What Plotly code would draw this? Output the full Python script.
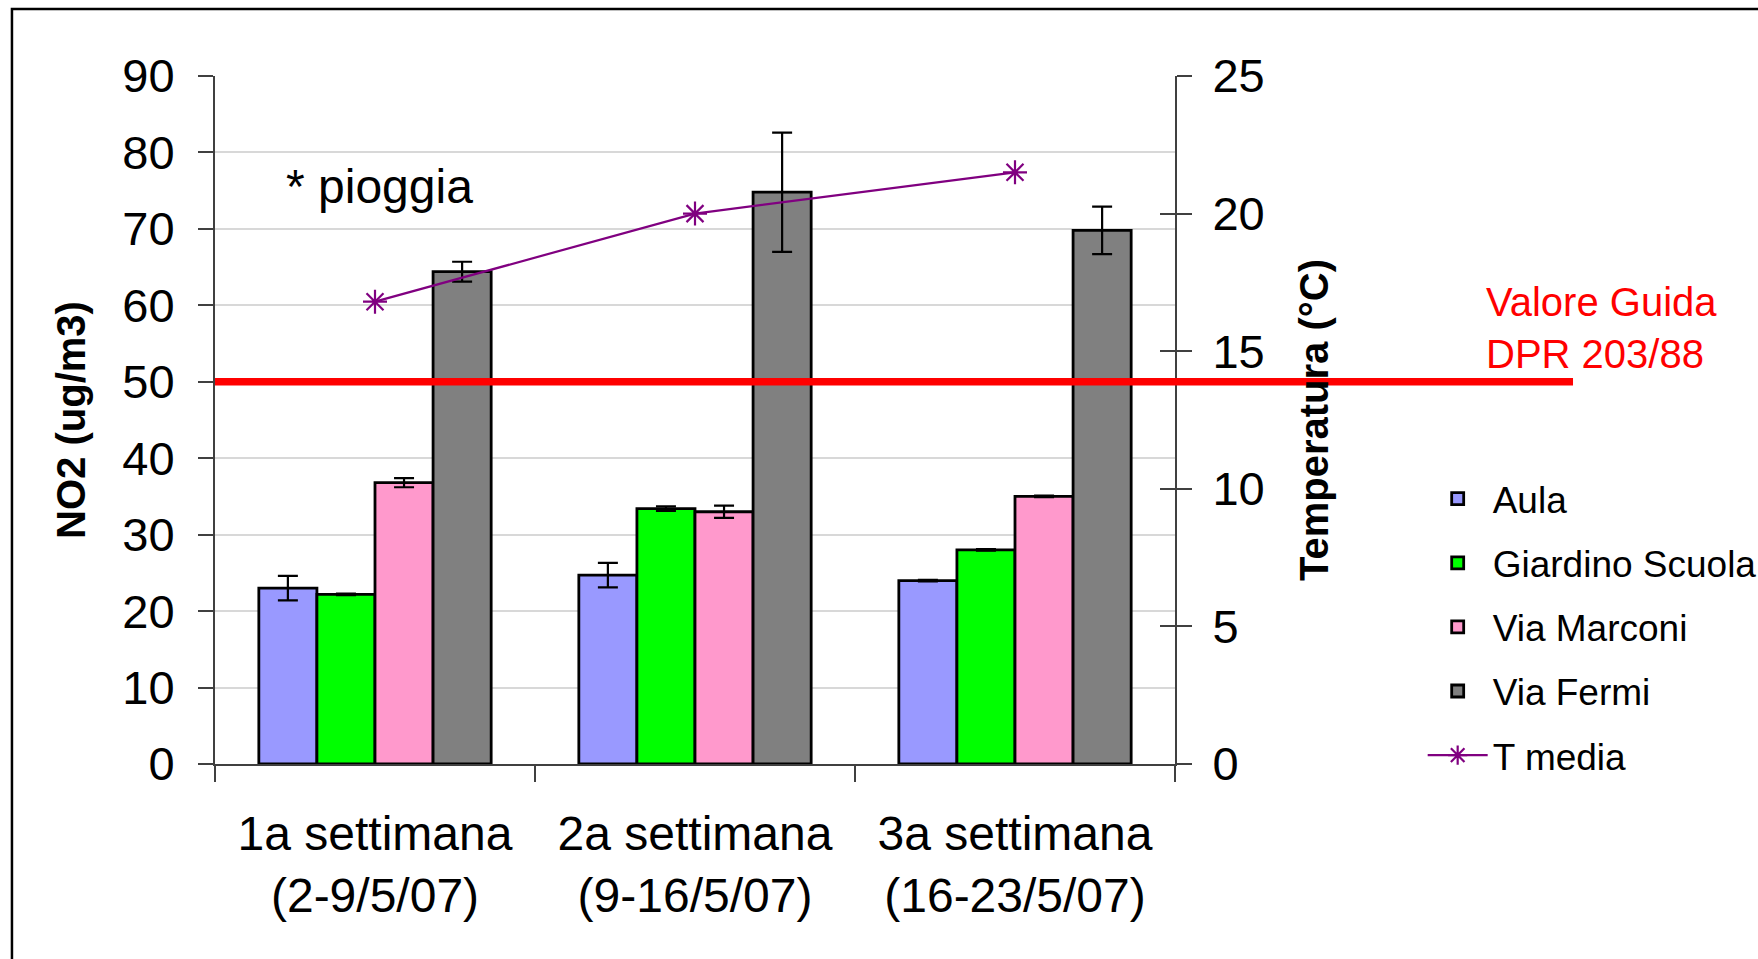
import plotly.graph_objects as go

categories = ["1a settimana<br>(2-9/5/07)", "2a settimana<br>(9-16/5/07)", "3a settimana<br>(16-23/5/07)"]
series_names = ["Aula", "Giardino Scuola", "Via Marconi", "Via Fermi"]
aula = [23.0, 24.7, 24.0]
giardino = [22.2, 33.4, 28.0]
marconi = [36.8, 33.0, 35.0]
fermi = [64.4, 74.8, 69.8]
aula_err = [1.6, 1.6, 0.1]
giardino_err = [0.1, 0.3, 0.1]
marconi_err = [0.6, 0.8, 0.1]
fermi_err = [1.3, 7.8, 3.1]
t_media = [16.8, 20.0, 21.5]
guide_value = 50
y_ticks = [0, 10, 20, 30, 40, 50, 60, 70, 80, 90]
y2_ticks = [0, 5, 10, 15, 20, 25]

colors = ["#9999FF", "#00FF00", "#FF99CC", "#808080"]
FONT = "Liberation Sans, Arial, sans-serif"

fig = go.Figure()
for name, vals, errs, col in zip(series_names, [aula, giardino, marconi, fermi],
                                 [aula_err, giardino_err, marconi_err, fermi_err], colors):
    fig.add_trace(go.Bar(
        x=categories, y=vals, name=name, legendgroup=name,
        marker=dict(color=col, line=dict(color="black", width=2.8)),
        error_y=dict(type="data", array=errs, visible=True, color="black", thickness=2.2, width=10),
    ))

fig.add_trace(go.Scatter(
    x=categories, y=t_media, name="T media", legendgroup="T media", yaxis="y2",
    mode="lines+markers",
    line=dict(color="#800080", width=2.2),
    marker=dict(symbol="asterisk-open", size=20, line=dict(color="#800080", width=2.2), color="#800080"),
))

fig.add_shape(type="line", xref="paper", yref="y", x0=0, x1=1.4146, y0=guide_value, y1=guide_value,
              line=dict(color="#FF0000", width=7.5), layer="above")

# outer frame
fig.add_shape(type="rect", xref="paper", yref="paper", x0=-0.2115, x1=1.7, y0=1.0974, y1=-0.4,
              line=dict(color="black", width=2.5), layer="below")

fig.add_annotation(text="* pioggia", xref="paper", yref="y", x=0.072, y=75.5, xanchor="left",
                   yanchor="middle", showarrow=False, font=dict(size=48, color="black", family=FONT))
fig.add_annotation(text="Valore Guida<br>DPR 203/88", xref="paper", yref="y", x=1.322, y=57.0,
                   xanchor="left", yanchor="middle", align="left", showarrow=False,
                   font=dict(size=40, color="#FF0000", family=FONT))

fig.update_layout(
    width=1758, height=959,
    margin=dict(l=215, r=583, t=76, b=195, autoexpand=False),
    paper_bgcolor="white", plot_bgcolor="white",
    font=dict(family=FONT, color="black"),
    barmode="group", bargap=0.274, bargroupgap=0,
    showlegend=True,
    legend=dict(x=1.258, xanchor="left", y=0.43, yanchor="top",
                font=dict(size=37, family=FONT, color="black"),
                itemwidth=60, tracegroupgap=13, bgcolor="rgba(0,0,0,0)", traceorder="grouped"),
    xaxis=dict(
        type="category", showline=True, linecolor="#404040", linewidth=2,
        ticks="outside", tickson="boundaries", ticklen=16, tickwidth=1.5, tickcolor="#404040",
        tickfont=dict(size=48, family=FONT, color="black"), showgrid=False,
        ticklabelstandoff=26,
    ),
    yaxis=dict(
        range=[0, 90], tickvals=y_ticks, showline=True, linecolor="#404040", linewidth=2,
        ticks="outside", ticklen=15, tickwidth=1.5, tickcolor="#404040",
        tickfont=dict(size=47, family=FONT, color="black"), showgrid=True, gridcolor="#D8D8D8",
        gridwidth=1.5, zeroline=False, ticklabelstandoff=14,
        title=dict(text="<b>NO2 (ug/m3)</b>", font=dict(size=40, family=FONT, color="black"), standoff=24),
    ),
    yaxis2=dict(
        range=[0, 25], tickvals=y2_ticks, overlaying="y", side="right", anchor="x",
        showline=True, linecolor="#404040", linewidth=2,
        ticks="outside", ticklen=15, tickwidth=1.5, tickcolor="#404040",
        tickfont=dict(size=47, family=FONT, color="black"), showgrid=False, zeroline=False,
        ticklabelstandoff=11,
        title=dict(text="<b>Temperatura (°C)</b>", font=dict(size=40, family=FONT, color="black"), standoff=36),
    ),
    yaxis3=dict(
        range=[0, 25], tickvals=y2_ticks, overlaying="y", side="right", anchor="x",
        showline=False, ticks="inside", ticklen=15, tickwidth=1.5, tickcolor="#404040",
        showticklabels=False, showgrid=False, zeroline=False,
    ),
)
fig.add_trace(go.Scatter(x=[categories[0]], y=[None], yaxis="y3", showlegend=False, hoverinfo="skip"))

fig.write_html("out.html")
